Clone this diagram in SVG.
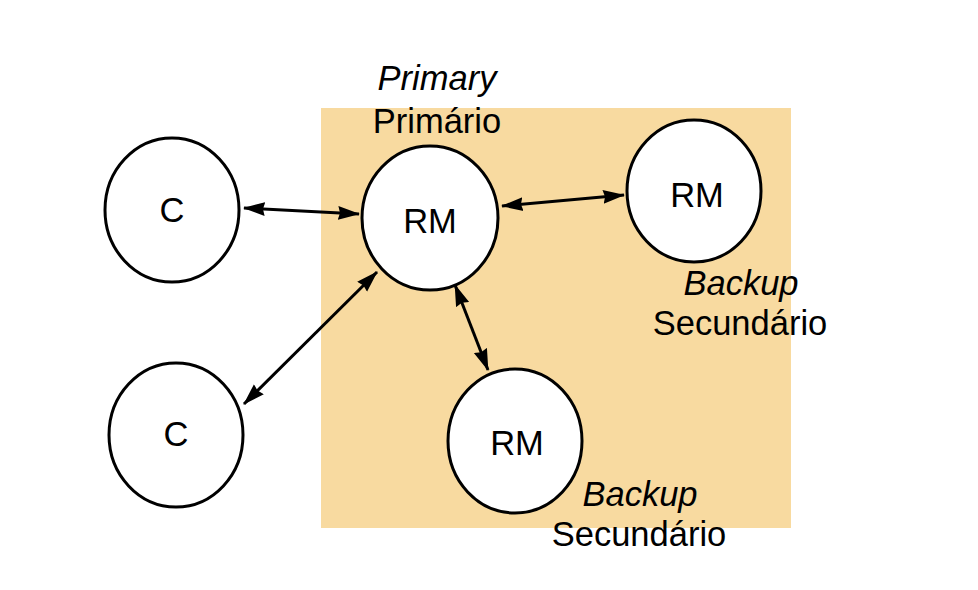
<svg xmlns="http://www.w3.org/2000/svg" width="978" height="590" viewBox="0 0 978 590">
<style>
.n{fill:#fff;stroke:#000;stroke-width:3}
.t{font-family:"Liberation Sans",Arial,sans-serif;font-size:34.5px;fill:#000;text-anchor:middle}
.i{font-style:italic}
.c{stroke:#000;stroke-width:3;fill:none;marker-start:url(#a);marker-end:url(#a)}
</style>
<defs>
<marker id="a" viewBox="0 0 22 16" refX="21" refY="8" markerWidth="22" markerHeight="16" markerUnits="userSpaceOnUse" orient="auto-start-reverse">
<path d="M0,1 L22,8 L0,15 L2,8 Z" fill="#000"/>
</marker>
</defs>
<rect x="321" y="108" width="470" height="420" fill="#F8DAA0"/>
<g id="connectors">
<line class="c" x1="244" y1="208" x2="359" y2="214"/>
<line class="c" x1="377" y1="272" x2="244" y2="404"/>
<line class="c" x1="502" y1="206" x2="624" y2="195"/>
<line class="c" x1="455" y1="285" x2="488" y2="370"/>
</g>
<g id="c1"><ellipse class="n" cx="172" cy="210" rx="67" ry="72"/><text class="t" x="172" y="222">C</text></g>
<g id="c2"><ellipse class="n" cx="176" cy="435" rx="67" ry="72"/><text class="t" x="176" y="446">C</text></g>
<g id="rm-primary"><ellipse class="n" cx="430" cy="218" rx="68" ry="72"/><text class="t" x="430" y="233">RM</text>
<text class="t i" x="437" y="90">Primary</text><text class="t" x="437" y="133">Primário</text></g>
<g id="rm-backup1"><ellipse class="n" cx="694" cy="191" rx="67" ry="71"/><text class="t" x="697" y="207">RM</text>
<text class="t i" x="741" y="295">Backup</text><text class="t" x="740" y="335">Secundário</text></g>
<g id="rm-backup2"><ellipse class="n" cx="515" cy="441" rx="67" ry="72"/><text class="t" x="517" y="455">RM</text>
<text class="t i" x="640" y="506">Backup</text><text class="t" x="639" y="546">Secundário</text></g>
</svg>
